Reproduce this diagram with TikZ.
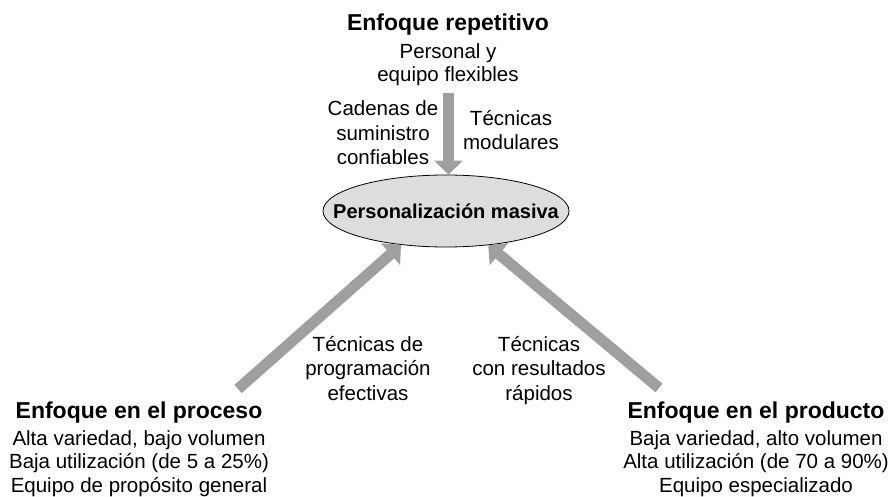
\documentclass[tikz,border=0pt]{standalone}
\usepackage{fontspec}
\setmainfont{Liberation Sans}
\usetikzlibrary{arrows.meta,shapes.geometric}
\definecolor{flechagris}{RGB}{158,159,161}
\definecolor{elipsegris}{RGB}{220,221,222}
\tikzset{
  titulo/.style={font=\fontsize{23}{27}\selectfont\bfseries, inner sep=0pt, anchor=base},
  rasgos/.style={font=\fontsize{20.5}{23.5}\selectfont, align=center, inner sep=0pt, anchor=base},
  etiqueta/.style={font=\fontsize{20.5}{24.5}\selectfont, align=center, inner sep=0pt, anchor=base},
  flecha/.style={draw=flechagris, line width=11pt,
    -{Triangle[width=28pt,length=14pt]}}
}
\begin{document}
\begin{tikzpicture}
\begin{scope}[x=1pt, y=1pt]
  \useasboundingbox (0,0) rectangle (892,496);
  % Centro
  \node[ellipse, draw=black, line width=0.8pt, fill=elipsegris,
        inner xsep=-28pt, inner ysep=0pt, minimum width=246pt, minimum height=72pt,
        font=\fontsize{20}{24}\selectfont\bfseries] (masiva) at (446,285) {Personalización masiva};
  % Enfoque repetitivo (base = ultima linea)
  \node[titulo] (repet) at (448,465) {Enfoque repetitivo};
  \node[rasgos] (flex) at (448,414) {Personal y\\equipo flexibles};
  \coordinate (colarep) at (448.5,403);
  \node[etiqueta] (cadenas) at (383,331) {Cadenas de\\suministro\\confiables};
  \node[etiqueta] (modular) at (511,346) {Técnicas\\modulares};
  % Enfoque en el proceso
  \node[titulo] (proceso) at (139,78) {Enfoque en el proceso};
  \node[rasgos] (procrasgos) at (139,4) {Alta variedad, bajo volumen\\Baja utilización (de 5 a 25\%)\\Equipo de propósito general};
  \coordinate (colaproc) at (238,107);
  \node[etiqueta] (program) at (368,96) {Técnicas de\\programación\\efectivas};
  % Enfoque en el producto
  \node[titulo] (producto) at (756,78) {Enfoque en el producto};
  \node[rasgos] (prodrasgos) at (756,4) {Baja variedad, alto volumen\\Alta utilización (de 70 a 90\%)\\Equipo especializado};
  \coordinate (colaprod) at (659,108);
  \node[etiqueta] (rapidos) at (539,96) {Técnicas\\con resultados\\rápidos};
  % Flechas
  \draw[flecha] (colarep) -- (colarep |- masiva.north);
  \draw[flecha] (colaproc) -- (masiva.217);
  \draw[flecha] (colaprod) -- (masiva.321);
\end{scope}
\end{tikzpicture}
\end{document}
